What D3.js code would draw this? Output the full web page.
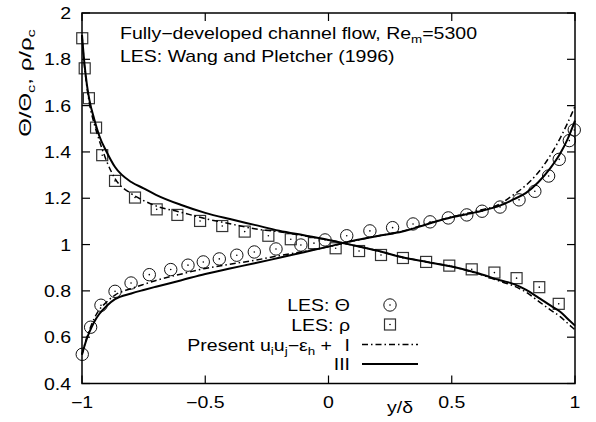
<!DOCTYPE html>
<html>
<head>
<meta charset="utf-8">
<script src="https://cdn.jsdelivr.net/npm/d3@7/dist/d3.min.js"></script>
<style>
  html, body { margin: 0; padding: 0; background: #fff; }
  svg { display: block; }
  text { font-family: "Liberation Sans", Arial, Helvetica, sans-serif; fill: #000; }
</style>
</head>
<body>
<svg id="chart" width="596" height="422"></svg>
<script>
// LES data (Wang and Pletcher 1996): temperature ratio Theta/Theta_c
const lesThetaX = [-0.999, -0.965, -0.923, -0.866, -0.801, -0.727, -0.640, -0.570, -0.508, -0.443,
                   -0.372, -0.301, -0.213, -0.112, -0.014, 0.074, 0.168, 0.260, 0.343, 0.412,
                   0.486, 0.561, 0.623, 0.696, 0.773, 0.837, 0.893, 0.936, 0.977, 0.997];
const lesThetaY = [0.526, 0.643, 0.738, 0.798, 0.834, 0.870, 0.892, 0.911, 0.925, 0.938,
                   0.954, 0.968, 0.981, 0.998, 1.020, 1.038, 1.059, 1.073, 1.089, 1.098,
                   1.115, 1.128, 1.144, 1.162, 1.193, 1.230, 1.296, 1.368, 1.449, 1.495];

// LES data: density ratio rho/rho_c
const lesRhoX = [-0.999, -0.989, -0.972, -0.943, -0.918, -0.866, -0.785, -0.697, -0.613, -0.521,
                 -0.431, -0.340, -0.244, -0.153, -0.059, 0.029, 0.124, 0.213, 0.302, 0.396,
                 0.490, 0.581, 0.673, 0.763, 0.855, 0.934];
const lesRhoY = [1.891, 1.761, 1.632, 1.505, 1.386, 1.275, 1.203, 1.152, 1.128, 1.102,
                 1.080, 1.056, 1.038, 1.023, 1.006, 0.984, 0.972, 0.955, 0.942, 0.925,
                 0.909, 0.893, 0.879, 0.855, 0.816, 0.744];

// Present model, variants I and III
const modelX = [-1, -0.99, -0.98, -0.97, -0.95, -0.93, -0.9, -0.866, -0.8, -0.75, -0.7, -0.6, -0.5,
                -0.4, -0.3, -0.2, -0.1, 0, 0.1, 0.2, 0.3, 0.4, 0.5, 0.6, 0.7, 0.75, 0.8, 0.85,
                0.9, 0.94, 0.97, 1];
const thetaI   = [0.525, 0.565, 0.600, 0.630, 0.682, 0.718, 0.752, 0.782, 0.810, 0.828, 0.845, 0.872, 0.897,
                  0.915, 0.932, 0.952, 0.970, 0.991, 1.015, 1.037, 1.058, 1.090, 1.120, 1.145, 1.178, 1.215,
                  1.255, 1.310, 1.385, 1.460, 1.525, 1.597];
const thetaIII = [0.525, 0.562, 0.595, 0.622, 0.667, 0.700, 0.735, 0.764, 0.789, 0.804, 0.818, 0.845, 0.873,
                  0.897, 0.919, 0.943, 0.967, 0.991, 1.017, 1.037, 1.056, 1.088, 1.118, 1.140, 1.170, 1.195,
                  1.222, 1.268, 1.330, 1.393, 1.455, 1.535];
const rhoI   = [1.905, 1.770, 1.680, 1.610, 1.520, 1.450, 1.360, 1.285, 1.220, 1.190, 1.167, 1.140, 1.112,
                1.090, 1.068, 1.055, 1.038, 1.020, 0.997, 0.973, 0.945, 0.925, 0.905, 0.876, 0.840, 0.822,
                0.795, 0.757, 0.718, 0.689, 0.660, 0.632];
const rhoIII = [1.905, 1.780, 1.690, 1.625, 1.540, 1.470, 1.400, 1.335, 1.270, 1.243, 1.215, 1.172, 1.137,
                1.110, 1.085, 1.060, 1.040, 1.020, 0.997, 0.973, 0.945, 0.925, 0.905, 0.878, 0.845, 0.830,
                0.805, 0.772, 0.737, 0.710, 0.680, 0.650];

const xTicks = [-1, -0.5, 0, 0.5, 1];
const xTickLabels = ["\u22121", "\u22120.5", "0", "0.5", "1"];
const yTicks = [0.4, 0.6, 0.8, 1, 1.2, 1.4, 1.6, 1.8, 2];
const yTickLabels = ["0.4", "0.6", "0.8", "1", "1.2", "1.4", "1.6", "1.8", "2"];

const svg = d3.select("#chart");
const plotL = 82, plotR = 575, plotT = 13, plotB = 383.5;
const x = d3.scaleLinear().domain([-1, 1]).range([plotL, plotR]);
const y = d3.scaleLinear().domain([0.4, 2]).range([plotB, plotT]);

const fs = 16;
const stretch = 1.22;   // wide lettering
const tickLen = 8;

// text helper: parts are [string, isSubscript]
function label(px, py, anchor, parts, extra) {
  const g = svg.append("g").attr("transform", `translate(${px},${py}) ${extra || ""} scale(${stretch},1)`);
  const t = g.append("text").attr("text-anchor", anchor).attr("font-size", fs);
  let sub = false;
  parts.forEach(p => {
    const [s, isSub] = typeof p === "string" ? [p, false] : p;
    const ts = t.append("tspan").text(s);
    if (isSub && !sub) ts.attr("dy", 4).attr("font-size", 11);
    else if (isSub) ts.attr("font-size", 11);
    else if (!isSub && sub) ts.attr("dy", -4);
    sub = isSub;
  });
  return t;
}

// ticks on all four sides, pointing inward
const ticks = svg.append("g").attr("stroke", "#000").attr("stroke-width", 1.2);
xTicks.forEach(v => {
  ticks.append("line").attr("x1", x(v)).attr("x2", x(v)).attr("y1", plotB).attr("y2", plotB - tickLen);
  ticks.append("line").attr("x1", x(v)).attr("x2", x(v)).attr("y1", plotT).attr("y2", plotT + tickLen);
});
yTicks.forEach(v => {
  ticks.append("line").attr("x1", plotL).attr("x2", plotL + tickLen).attr("y1", y(v)).attr("y2", y(v));
  ticks.append("line").attr("x1", plotR).attr("x2", plotR - tickLen).attr("y1", y(v)).attr("y2", y(v));
});

// tick labels
xTicks.forEach((v, i) => label(x(v), 408, "middle", [xTickLabels[i]]));
yTicks.forEach((v, i) => label(71, y(v) + 6, "end", [yTickLabels[i]]));

// axis labels
label(387, 413, "start", ["y/\u03b4"]);
svg.append("g").attr("transform", "translate(31,83) rotate(-90) scale(1.5,1)")
  .append("text").attr("text-anchor", "middle").attr("font-size", fs)
  .call(t => {
    t.append("tspan").text("\u0398/\u0398");
    t.append("tspan").attr("font-size", 11).attr("dy", 4).text("c");
    t.append("tspan").attr("dy", -4).text(", \u03c1/\u03c1");
    t.append("tspan").attr("font-size", 11).attr("dy", 4).text("c");
  });

// annotation
label(120, 39, "start", ["Fully\u2212developed channel flow, Re", ["m", true], "=5300"]);
label(120, 62, "start", ["LES: Wang and Pletcher (1996)"]);

// markers
function drawCircles(g, pts) {
  pts.forEach(([px, py]) => {
    g.append("circle").attr("cx", px).attr("cy", py).attr("r", 6.2)
      .attr("fill", "none").attr("stroke", "#111").attr("stroke-width", 1);
    g.append("circle").attr("cx", px).attr("cy", py).attr("r", 0.8).attr("fill", "#000");
  });
}
function drawSquares(g, pts) {
  pts.forEach(([px, py]) => {
    g.append("rect").attr("x", px - 5.5).attr("y", py - 5.5).attr("width", 11).attr("height", 11)
      .attr("fill", "none").attr("stroke", "#333").attr("stroke-width", 1.2);
    g.append("circle").attr("cx", px).attr("cy", py).attr("r", 0.8).attr("fill", "#000");
  });
}
const marks = svg.append("g");
drawCircles(marks, lesThetaX.map((v, i) => [x(v), y(lesThetaY[i])]));
drawSquares(marks, lesRhoX.map((v, i) => [x(v), y(lesRhoY[i])]));

// model curves
const line = d3.line().x(d => x(d[0])).y(d => y(d[1])).curve(d3.curveMonotoneX);
const dashDot = "6,3,1.5,3";
function curve(vals, dash, width) {
  svg.append("path").datum(modelX.map((v, i) => [v, vals[i]]))
    .attr("d", line).attr("fill", "none").attr("stroke", "#000")
    .attr("stroke-width", width).attr("stroke-dasharray", dash);
}
curve(thetaI, dashDot, 1.5);
curve(rhoI, dashDot, 1.5);
curve(thetaIII, null, 2);
curve(rhoIII, null, 2);

// legend
const lx = 350, sx1 = 362, sx2 = 418;
label(lx, 311, "end", ["LES: \u0398"]);
drawCircles(svg.append("g"), [[390, 305]]);
label(lx, 331, "end", ["LES: \u03c1"]);
drawSquares(svg.append("g"), [[390, 324.5]]);
label(332, 350.5, "end", ["Present u", ["i", true], "u", ["j", true], "\u2212\u03b5", ["h", true], " +"]);
label(lx, 350.5, "end", ["I"]);
svg.append("line").attr("x1", sx1).attr("x2", sx2).attr("y1", 344.5).attr("y2", 344.5)
  .attr("stroke", "#000").attr("stroke-width", 1.5).attr("stroke-dasharray", dashDot);
label(lx, 370, "end", ["III"]);
svg.append("line").attr("x1", sx1).attr("x2", sx2).attr("y1", 364).attr("y2", 364)
  .attr("stroke", "#000").attr("stroke-width", 2);

// frame
svg.append("rect").attr("x", plotL).attr("y", plotT).attr("width", plotR - plotL).attr("height", plotB - plotT)
  .attr("fill", "none").attr("stroke", "#000").attr("stroke-width", 1.5);
</script>
</body>
</html>
